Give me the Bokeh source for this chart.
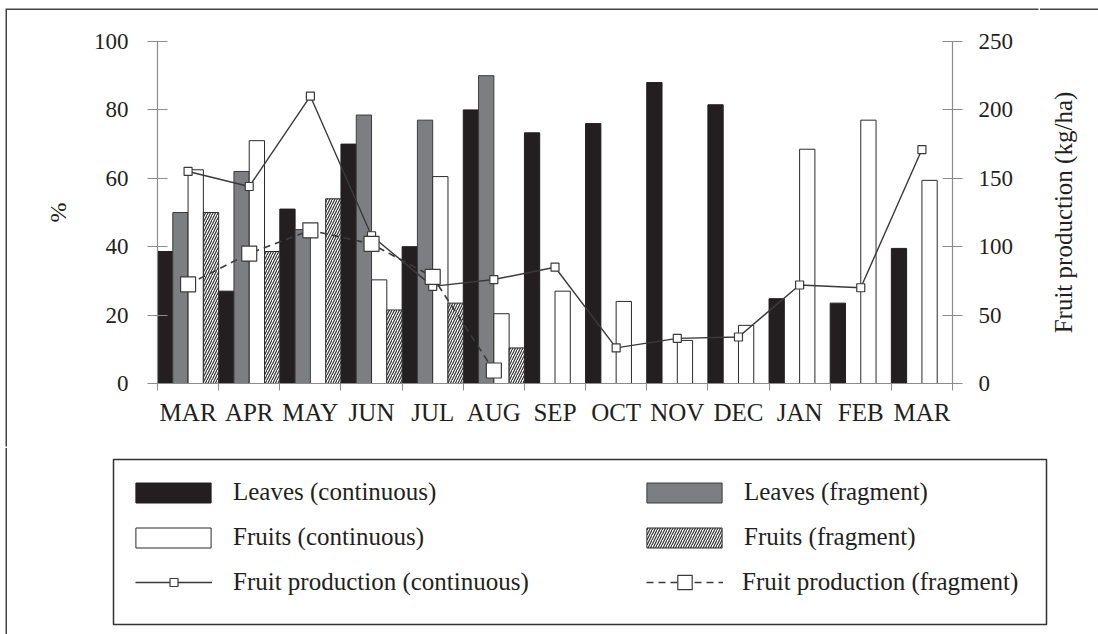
from bokeh.plotting import figure
from bokeh.models import (Range1d, LinearAxis, FixedTicker, ColumnDataSource,
                          Legend, LegendItem)
from bokeh.layouts import row
from bokeh.transform import dodge
from bokeh.embed import file_html
from bokeh.resources import INLINE

# ---------------- data ----------------
months = ["MAR", "APR", "MAY", "JUN", "JUL", "AUG", "SEP", "OCT", "NOV", "DEC",
          "JAN", "FEB", "MAR"]
leaves_cont = [38.6, 27, 51, 70, 40, 80, 73.3, 76, 88, 81.5, 24.8, 23.5, 39.5]
fruits_cont = [62.5, 71, 0, 30.3, 60.5, 20.4, 27, 24, 12.6, 17, 68.5, 77, 59.4]
frag_months = ["MAR", "APR", "MAY", "JUN", "JUL", "AUG"]
leaves_frag = [50, 62, 45, 78.5, 77, 90]
fruits_frag = [50, 38.6, 54, 21.5, 23.5, 10.4]
prod_cont = [155, 144, 210, 108, 71, 76, 85, 26, 33, 34, 72, 70, 171]
prod_frag = [72.4, 95, 112, 102, 78, 9.5]
pct_ticks = [0, 20, 40, 60, 80, 100]
prod_ticks = [0, 50, 100, 150, 200, 250]

FONT = "Liberation Serif"
INK = "#231f20"
AXIS = "#8c8c8c"
LINE = "#3a3a3a"
BLACK = "#231f20"
GRAY = "#7d7e81"

n = len(months)
centers = [i + 0.5 for i in range(n)]
fcenters = [i + 0.5 for i in range(len(frag_months))]

src = ColumnDataSource(dict(x=centers, lc=leaves_cont, fc=fruits_cont, pc=prod_cont))
fsrc = ColumnDataSource(dict(x=fcenters, lf=leaves_frag, ff=fruits_frag, pf=prod_frag))

# ---------------- main chart ----------------
p = figure(width=1033, height=438, x_range=Range1d(0, n), y_range=Range1d(0, 100),
           output_backend="svg", toolbar_location=None, margin=(10, 0, 0, 7),
           min_border_left=150, min_border_right=88, min_border_top=31,
           min_border_bottom=65, outline_line_color=None,
           styles={"box-shadow": "-1.5px -1.5px 0 0 #444444"})
p.grid.grid_line_color = None
p.extra_y_ranges = {"prod": Range1d(0, 250)}

W = 0.25
bar_line = "#2a2a2a"
BARS = [
    dict(x=dodge("x", -0.375, range=p.x_range), top="lc", source=src,
         fill_color=BLACK, line_color=BLACK),
    dict(x=dodge("x", -0.125, range=p.x_range), top="lf", source=fsrc,
         fill_color=GRAY, line_color="#3c3c3c"),
    dict(x=dodge("x", 0.125, range=p.x_range), top="fc", source=src,
         fill_color="white", line_color=bar_line),
    dict(x=dodge("x", 0.375, range=p.x_range), top="ff", source=fsrc,
         fill_color="white", line_color=bar_line, hatch_pattern="/",
         hatch_color="#333333", hatch_scale=5, hatch_weight=1.2),
]
for b in BARS:
    p.vbar(width=W, line_width=1, **b)

PC_LINE = dict(line_color=LINE, line_width=1.4)
PC_MARK = dict(marker="square", fill_color="white", line_color=LINE, line_width=1.2)
PF_LINE = dict(line_color=LINE, line_width=1.6, line_dash="7 5")
PF_MARK = dict(marker="square", fill_color="white", line_color=LINE, line_width=1.2)

p.line(x="x", y="pc", source=src, y_range_name="prod", **PC_LINE)
p.scatter(x="x", y="pc", source=src, y_range_name="prod", size=8, **PC_MARK)
p.line(x="x", y="pf", source=fsrc, y_range_name="prod", **PF_LINE)
p.scatter(x="x", y="pf", source=fsrc, y_range_name="prod", size=15, **PF_MARK)

# axes
xa = p.xaxis[0]
xa.ticker = FixedTicker(ticks=centers, minor_ticks=list(range(n + 1)))
xa.major_label_overrides = {c: m for c, m in zip(centers, months)}
xa.major_tick_line_color = None
xa.minor_tick_line_color = AXIS
xa.minor_tick_out = 7
xa.minor_tick_in = 0
xa.axis_line_color = AXIS
xa.axis_line_width = 1.2
xa.major_label_standoff = 8
xa.major_label_text_font = FONT
xa.major_label_text_font_size = "25px"
xa.major_label_text_color = INK

ya = p.yaxis[0]
ya.ticker = FixedTicker(ticks=pct_ticks)
ya.axis_label = "%"
ya.axis_label_text_font = FONT
ya.axis_label_text_font_size = "24px"
ya.axis_label_text_font_style = "normal"
ya.axis_label_text_color = INK
ya.axis_label_standoff = 20

ra = LinearAxis(y_range_name="prod", ticker=FixedTicker(ticks=prod_ticks))
p.add_layout(ra, "right")

for a, so in ((ya, 19), (ra, 16)):
    a.axis_line_color = AXIS
    a.axis_line_width = 1.2
    a.major_tick_line_color = AXIS
    a.major_tick_line_width = 1.2
    a.major_tick_in = 10
    a.major_tick_out = 10
    a.minor_tick_line_color = None
    a.major_label_standoff = so
    a.major_label_text_font = FONT
    a.major_label_text_font_size = "23px"
    a.major_label_text_color = INK

# right-hand axis title (holder so that it reads bottom-to-top like the original)
p3 = figure(width=58, height=438, x_range=Range1d(0, 1), y_range=Range1d(0, 1),
            output_backend="svg", toolbar_location=None, margin=(10, 0, 0, 0),
            x_axis_location=None, min_border_left=38, min_border_right=10,
            min_border_top=31, min_border_bottom=65, outline_line_color=None,
            styles={"box-shadow": "0 -1.5px 0 0 #444444"})
p3.grid.grid_line_color = None
ta = p3.yaxis[0]
ta.ticker = FixedTicker(ticks=[])
ta.axis_line_color = None
ta.major_tick_line_color = None
ta.minor_tick_line_color = None
ta.major_tick_out = 0
ta.major_label_standoff = 0
ta.axis_label = "Fruit production (kg/ha)"
ta.axis_label_standoff = 2
ta.axis_label_text_font = FONT
ta.axis_label_text_font_size = "25px"
ta.axis_label_text_font_style = "normal"
ta.axis_label_text_color = INK

# ---------------- legend panel ----------------
p2 = figure(width=1091, height=186, x_range=Range1d(-20, -19), y_range=Range1d(-20, -19),
            output_backend="svg", toolbar_location=None, margin=(0, 0, 0, 7),
            x_axis_location=None, y_axis_location=None,
            min_border_left=106, min_border_right=52, min_border_top=11,
            min_border_bottom=10, outline_line_color="#333333", outline_line_width=1.5,
            styles={"box-shadow": "-1.5px 0 0 0 #444444"})
p2.grid.grid_line_color = None

# legend proxies (same data, hidden; only their legend glyphs are drawn)
rb = [p2.vbar(width=W, line_width=1, visible=False, **b) for b in BARS]
r_pcl = p2.line(x="x", y="pc", source=src, visible=False, **PC_LINE)
r_pcm = p2.scatter(x="x", y="pc", source=src, visible=False, **PC_MARK)
r_pfl = p2.line(x="x", y="pf", source=fsrc, visible=False, **PF_LINE)
r_pfm = p2.scatter(x="x", y="pf", source=fsrc, visible=False, **PF_MARK)


def make_legend(items, loc, gw, gh, standoff):
    return Legend(items=items, location=loc, orientation="vertical",
                  padding=0, margin=0, spacing=17, glyph_width=gw, glyph_height=gh,
                  label_standoff=standoff, label_text_font=FONT,
                  label_text_font_size="25px", label_text_color=INK,
                  background_fill_alpha=0, border_line_alpha=0,
                  inactive_fill_alpha=0, click_policy="none")


legends = [
    make_legend([LegendItem(label="Leaves (continuous)", renderers=[rb[0]]),
                 LegendItem(label="Fruits (continuous)", renderers=[rb[2]])],
                (13, 73), 94, 25, 13),
    make_legend([LegendItem(label="Fruit production (continuous)",
                            renderers=[r_pcl, r_pcm])],
                (22, 28), 77, 20, 21),
    make_legend([LegendItem(label="Leaves (fragment)", renderers=[rb[1]]),
                 LegendItem(label="Fruits (fragment)", renderers=[rb[3]])],
                (524, 73), 94, 25, 13),
    make_legend([LegendItem(label="Fruit production (fragment)",
                            renderers=[r_pfl, r_pfm])],
                (533, 24), 77, 36, 19),
]
for lg in legends:
    p2.add_layout(lg)

open("out.html", "w").write(file_html([row(p, p3, spacing=0), p2], INLINE))
